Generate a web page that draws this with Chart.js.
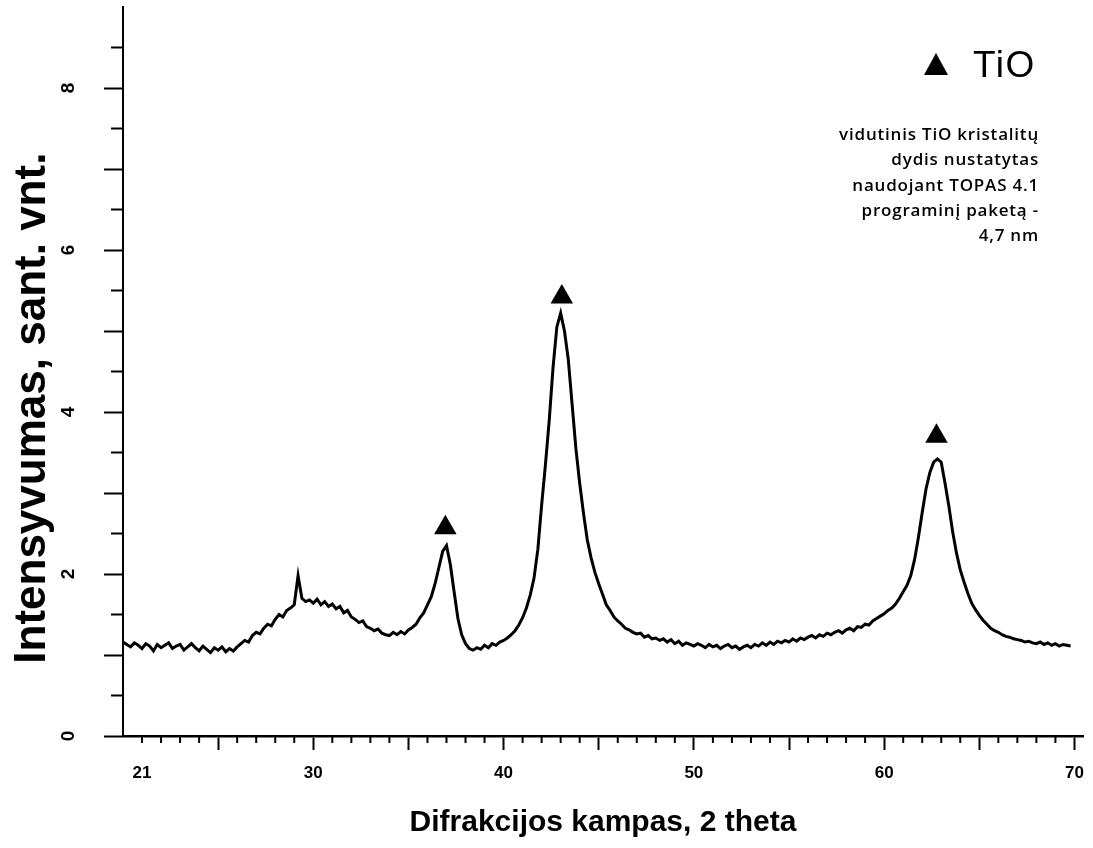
<!DOCTYPE html>
<html>
<head>
<meta charset="utf-8">
<script src="https://cdn.jsdelivr.net/npm/chart.js@4.4.1/dist/chart.umd.min.js"></script>
<style>
  html, body { margin: 0; padding: 0; background: #fff; }
  #wrap { position: relative; width: 1093px; height: 848px; overflow: hidden; }
  #chart { position: absolute; left: 0; top: 0; }
  .tri { position: absolute; left: 924px; top: 53px; width: 0; height: 0;
         border-left: 12.5px solid transparent; border-right: 12.5px solid transparent;
         border-bottom: 22px solid #000; }
  .legText { position: absolute; left: 973px; top: 46px; font-family: "Liberation Sans", Arial, sans-serif;
             font-size: 37px; line-height: 37px; color: #000; letter-spacing: 1.5px; white-space: nowrap; }
  .note { position: absolute; right: 54px; top: 121px; text-align: right; font-family: "Open Sans", sans-serif;
          font-size: 17px; font-weight: 600; line-height: 25.25px; color: #000; letter-spacing: 0.8px; white-space: nowrap; }
</style>
</head>
<body>
<div id="wrap">
  <canvas id="chart" width="1093" height="848"></canvas>
  <div class="tri"></div>
  <div class="legText">TiO</div>
  <div class="note">vidutinis TiO kristalitų<br>dydis nustatytas<br>naudojant TOPAS 4.1<br>programinį paketą -<br>4,7 nm</div>
</div>
<script>
// 2θ positions (degrees)
const twoTheta = [
  20.0,20.2,20.4,20.6,20.8,21.0,21.2,21.4,21.6,21.8,
  22.0,22.2,22.4,22.6,22.8,23.0,23.2,23.4,23.6,23.8,
  24.0,24.2,24.4,24.6,24.8,25.0,25.2,25.4,25.6,25.8,
  26.0,26.2,26.4,26.6,26.8,27.0,27.2,27.4,27.6,27.8,
  28.0,28.2,28.4,28.6,28.8,29.0,29.2,29.4,29.6,29.8,
  30.0,30.2,30.4,30.6,30.8,31.0,31.2,31.4,31.6,31.8,
  32.0,32.2,32.4,32.6,32.8,33.0,33.2,33.4,33.6,33.8,
  34.0,34.2,34.4,34.6,34.8,35.0,35.2,35.4,35.6,35.8,
  36.0,36.2,36.4,36.6,36.8,37.0,37.2,37.4,37.6,37.8,
  38.0,38.2,38.4,38.6,38.8,39.0,39.2,39.4,39.6,39.8,
  40.0,40.2,40.4,40.6,40.8,41.0,41.2,41.4,41.6,41.8,
  42.0,42.2,42.4,42.6,42.8,43.0,43.2,43.4,43.6,43.8,
  44.0,44.2,44.4,44.6,44.8,45.0,45.2,45.4,45.6,45.8,
  46.0,46.2,46.4,46.6,46.8,47.0,47.2,47.4,47.6,47.8,
  48.0,48.2,48.4,48.6,48.8,49.0,49.2,49.4,49.6,49.8,
  50.0,50.2,50.4,50.6,50.8,51.0,51.2,51.4,51.6,51.8,
  52.0,52.2,52.4,52.6,52.8,53.0,53.2,53.4,53.6,53.8,
  54.0,54.2,54.4,54.6,54.8,55.0,55.2,55.4,55.6,55.8,
  56.0,56.2,56.4,56.6,56.8,57.0,57.2,57.4,57.6,57.8,
  58.0,58.2,58.4,58.6,58.8,59.0,59.2,59.4,59.6,59.8,
  60.0,60.2,60.4,60.6,60.8,61.0,61.2,61.4,61.6,61.8,
  62.0,62.2,62.4,62.6,62.8,63.0,63.2,63.4,63.6,63.8,
  64.0,64.2,64.4,64.6,64.8,65.0,65.2,65.4,65.6,65.8,
  66.0,66.2,66.4,66.6,66.8,67.0,67.2,67.4,67.6,67.8,
  68.0,68.2,68.4,68.6,68.8,69.0,69.2,69.4,69.6,69.8
];
// Intensity (a.u.)
const intensity = [
  1.16,1.13,1.10,1.15,1.12,1.08,1.14,1.11,1.05,1.13,
  1.09,1.12,1.15,1.08,1.11,1.13,1.06,1.10,1.14,1.09,
  1.05,1.11,1.07,1.03,1.09,1.06,1.10,1.04,1.08,1.05,
  1.10,1.14,1.18,1.16,1.24,1.28,1.26,1.33,1.38,1.36,
  1.44,1.50,1.47,1.55,1.58,1.62,1.98,1.70,1.66,1.68,
  1.64,1.69,1.62,1.66,1.60,1.63,1.57,1.60,1.52,1.55,
  1.47,1.44,1.40,1.42,1.35,1.33,1.30,1.32,1.27,1.25,
  1.24,1.28,1.25,1.29,1.26,1.31,1.34,1.38,1.46,1.52,
  1.62,1.72,1.88,2.08,2.28,2.35,2.12,1.78,1.45,1.25,
  1.14,1.08,1.06,1.09,1.07,1.12,1.09,1.14,1.12,1.16,
  1.18,1.21,1.25,1.30,1.37,1.46,1.58,1.74,1.95,2.30,
  2.85,3.35,3.90,4.55,5.05,5.22,5.00,4.65,4.10,3.55,
  3.12,2.75,2.42,2.20,2.02,1.88,1.75,1.62,1.55,1.47,
  1.42,1.38,1.33,1.31,1.28,1.26,1.27,1.22,1.24,1.20,
  1.21,1.18,1.20,1.16,1.19,1.14,1.17,1.12,1.15,1.13,
  1.11,1.14,1.12,1.09,1.13,1.10,1.12,1.08,1.11,1.13,
  1.09,1.11,1.07,1.10,1.12,1.09,1.13,1.11,1.15,1.12,
  1.16,1.13,1.17,1.15,1.18,1.16,1.20,1.17,1.21,1.19,
  1.22,1.24,1.21,1.25,1.23,1.27,1.25,1.28,1.30,1.27,
  1.31,1.33,1.30,1.35,1.34,1.38,1.37,1.42,1.45,1.48,
  1.51,1.55,1.58,1.63,1.70,1.78,1.86,1.98,2.18,2.45,
  2.76,3.05,3.25,3.38,3.42,3.38,3.12,2.84,2.52,2.26,
  2.05,1.90,1.76,1.64,1.56,1.49,1.43,1.38,1.33,1.30,
  1.28,1.25,1.23,1.22,1.20,1.19,1.18,1.16,1.17,1.15,
  1.14,1.16,1.13,1.15,1.12,1.14,1.11,1.13,1.12,1.11
];
// TiO peak markers
const markerX = [36.94, 43.06, 62.75];
const markerY = [2.57, 5.42, 3.70];
// Tick labels
const xTickLabels = [21, 30, 40, 50, 60, 70];
const yTickLabels = [0, 2, 4, 6, 8];

const FONT = '"Liberation Sans", Arial, sans-serif';

const minorTicks = {
  id: 'minorTicks',
  afterDraw(chart) {
    const { ctx, chartArea, scales: { x, y } } = chart;
    ctx.save();
    ctx.strokeStyle = '#000';
    ctx.lineWidth = 2;
    y.ticks.forEach(t => {
      if (Math.abs(t.value - Math.round(t.value)) > 1e-6 && t.value < 9) {
        const py = y.getPixelForValue(t.value);
        ctx.beginPath(); ctx.moveTo(chartArea.left - 12, py); ctx.lineTo(chartArea.left, py); ctx.stroke();
      }
    });
    x.ticks.forEach(t => {
      if (t.value > 20 && t.value % 5 !== 0) {
        const px = x.getPixelForValue(t.value);
        ctx.beginPath(); ctx.moveTo(px, chartArea.bottom); ctx.lineTo(px, chartArea.bottom + 7); ctx.stroke();
      }
    });
    ctx.restore();
  }
};

new Chart(document.getElementById('chart'), {
  type: 'line',
  data: {
    datasets: [
      {
        label: 'XRD',
        data: twoTheta.map((t, i) => ({ x: t, y: intensity[i] })),
        borderColor: '#000',
        borderWidth: 3,
        pointRadius: 0,
        tension: 0,
        fill: false
      },
      {
        label: 'TiO',
        data: markerX.map((t, i) => ({ x: t, y: markerY[i] })),
        showLine: false,
        pointStyle: 'triangle',
        pointRadius: 13,
        pointBackgroundColor: '#000',
        pointBorderColor: '#000',
        pointBorderWidth: 0
      }
    ]
  },
  options: {
    responsive: false,
    animation: false,
    devicePixelRatio: 1,
    layout: { autoPadding: false, padding: { top: 7, right: 10, left: 0, bottom: 0 } },
    plugins: { legend: { display: false }, tooltip: { enabled: false } },
    scales: {
      x: {
        type: 'linear',
        min: 20, max: 70.45,
        afterFit(s) { s.height = 112; s.paddingLeft = 0; s.paddingRight = 0; },
        border: { display: true, color: '#000', width: 2.5 },
        grid: {
          drawOnChartArea: false, drawTicks: true, tickLength: 14, tickWidth: 2,
          tickColor: c => (c.tick && c.tick.value > 20 && c.tick.value % 5 === 0) ? '#000' : 'rgba(0,0,0,0)'
        },
        ticks: {
          stepSize: 1, autoSkip: false, includeBounds: false, maxRotation: 0, minRotation: 0,
          padding: 13, color: '#000',
          font: { family: FONT, size: 17, weight: 'bold' },
          callback: v => xTickLabels.includes(v) ? String(v) : ''
        },
        title: {
          display: true, text: 'Difrakcijos kampas, 2 theta', color: '#000',
          font: { family: FONT, size: 30, weight: 'bold' },
          padding: { top: 0, bottom: 7 }
        }
      },
      y: {
        type: 'linear',
        min: 0, max: 9,
        afterFit(s) { s.width = 123; s.paddingTop = 0; s.paddingBottom = 0; },
        border: { display: true, color: '#000', width: 2 },
        grid: {
          drawOnChartArea: false, drawTicks: true, tickLength: 19, tickWidth: 2,
          tickColor: c => (c.tick && Number.isInteger(c.tick.value) && c.tick.value < 9) ? '#000' : 'rgba(0,0,0,0)'
        },
        ticks: {
          stepSize: 0.5, autoSkip: false, includeBounds: false, minRotation: 90, maxRotation: 90,
          crossAlign: 'center', padding: 30, color: '#000',
          font: { family: FONT, size: 19, weight: 'bold' },
          callback: v => yTickLabels.includes(v) ? String(v) : ''
        },
        title: {
          display: true, text: 'Intensyvumas, sant. vnt.      ', color: '#000',
          font: { family: FONT, size: 44, weight: 'bold' },
          padding: { top: 6, bottom: 0 }
        }
      }
    }
  },
  plugins: [minorTicks]
});
</script>
</body>
</html>
